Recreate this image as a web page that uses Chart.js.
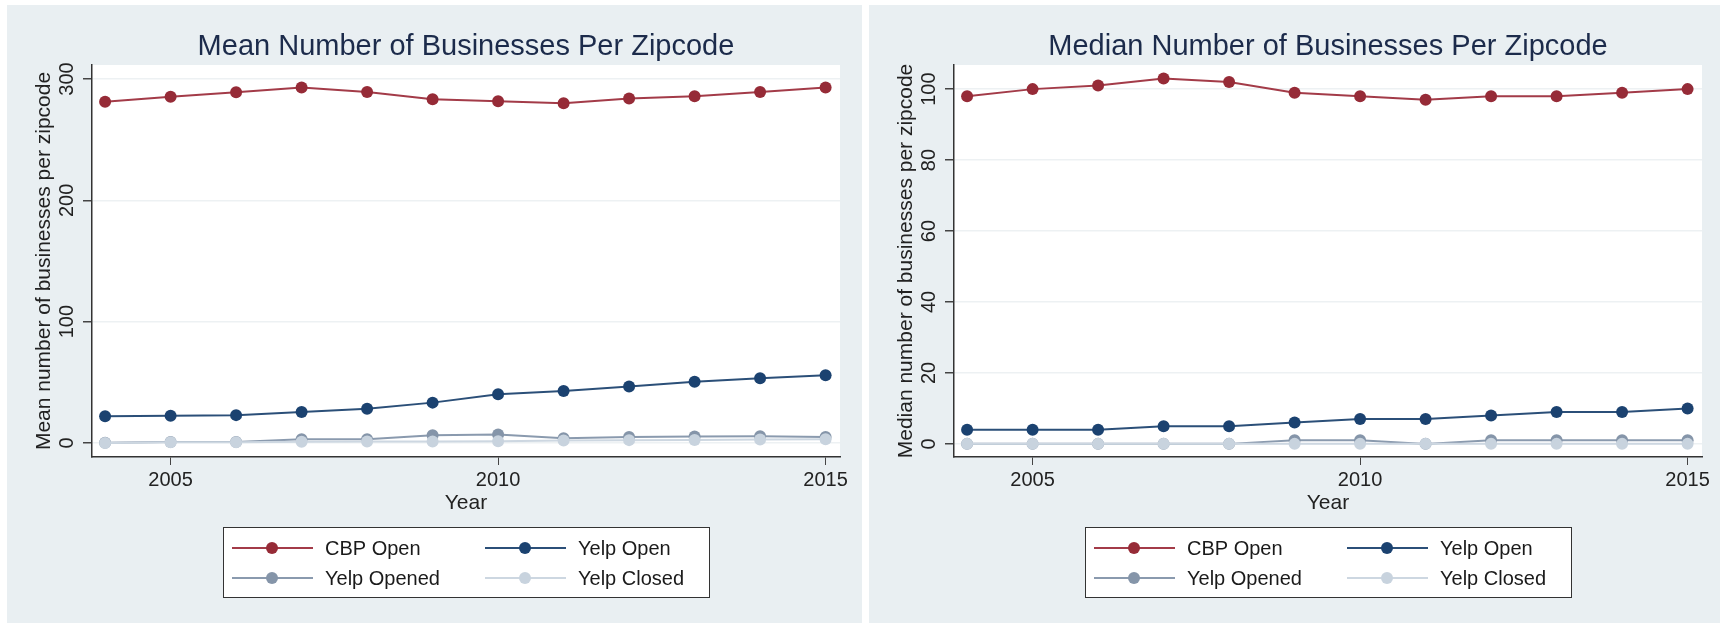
<!DOCTYPE html>
<html>
<head>
<meta charset="utf-8">
<script src="https://cdn.jsdelivr.net/npm/chart.js@4"></script>
<style>
    body { margin: 0; background: #ffffff; width: 1720px; height: 623px; position: relative; overflow: hidden; }
    .panel { position: absolute; top: 5px; height: 618px; background: #e9eff2; }
    #leftPanel { left: 7px; width: 855px; }
    #rightPanel { left: 869px; width: 851px; }
    canvas { display: block; }
</style>
</head>
<body>
<div class="panel" id="leftPanel"><canvas id="meanChart" width="855" height="618"></canvas></div>
<div class="panel" id="rightPanel"><canvas id="medianChart" width="851" height="618"></canvas></div>

<script>
// --- Data ---
const years = [2004, 2005, 2006, 2007, 2008, 2009, 2010, 2011, 2012, 2013, 2014, 2015];
const seriesLabels = ['CBP Open', 'Yelp Open', 'Yelp Opened', 'Yelp Closed'];

const meanCbpOpen = [281.3, 285.4, 289.0, 292.9, 289.3, 283.2, 281.6, 280.0, 283.8, 285.7, 289.3, 292.9];
const meanYelpOpen = [22.0, 22.4, 23.0, 25.6, 28.2, 33.3, 40.3, 42.9, 46.5, 50.5, 53.3, 55.8];
const meanYelpOpened = [0.3, 0.8, 0.8, 3.2, 3.2, 6.5, 7.0, 4.0, 4.9, 5.4, 5.7, 4.9];
const meanYelpClosed = [0.0, 0.6, 0.7, 1.0, 1.2, 1.3, 1.5, 2.0, 2.4, 2.6, 2.9, 3.2];

const medianCbpOpen = [98, 100, 101, 103, 102, 99, 98, 97, 98, 98, 99, 100];
const medianYelpOpen = [4, 4, 4, 5, 5, 6, 7, 7, 8, 9, 9, 10];
const medianYelpOpened = [0, 0, 0, 0, 0, 1, 1, 0, 1, 1, 1, 1];
const medianYelpClosed = [0, 0, 0, 0, 0, 0, 0, 0, 0, 0, 0, 0];

const xTickValues = [2005, 2010, 2015];
const meanTickValues = [0, 100, 200, 300];
const medianTickValues = [0, 20, 40, 60, 80, 100];

// line colour / marker colour per series
const lineColors = ['#a33b48', '#2b4f78', '#8a9aae', '#cdd7e1'];
const markerColors = ['#962b37', '#1b4270', '#8595a9', '#c8d3de'];

const FONT = '"Liberation Sans", Arial, Helvetica, sans-serif';

// Title, rotated y tick labels, plot background and boxed legend
const panelDecor = {
    id: 'panelDecor',
    beforeDraw(chart) {
        const { ctx, chartArea: ca } = chart;
        ctx.save();
        ctx.fillStyle = '#ffffff';
        ctx.fillRect(ca.left, ca.top, ca.right - ca.left, ca.bottom - ca.top);
        ctx.restore();
    },
    afterDraw(chart, args, opts) {
        const { ctx, chartArea: ca } = chart;
        const cx = (ca.left + ca.right) / 2;
        ctx.save();

        // Title
        ctx.font = '29px ' + FONT;
        ctx.fillStyle = '#1c2b4b';
        ctx.textAlign = 'center';
        ctx.textBaseline = 'middle';
        ctx.fillText(opts.title, cx, 42);

        // Y tick labels, rotated like Stata does
        const yScale = chart.scales.y;
        ctx.font = '20px ' + FONT;
        ctx.fillStyle = '#222222';
        yScale.ticks.forEach(t => {
            const py = yScale.getPixelForValue(t.value);
            ctx.save();
            ctx.translate(ca.left - 25, py);
            ctx.rotate(-Math.PI / 2);
            ctx.fillText(String(t.value), 0, 0);
            ctx.restore();
        });

        // Legend box
        const w = 486, h = 70, top = 522;
        const left = Math.round(cx - w / 2);
        ctx.fillStyle = '#ffffff';
        ctx.fillRect(left, top, w, h);
        ctx.strokeStyle = '#333333';
        ctx.lineWidth = 1;
        ctx.strokeRect(left + 0.5, top + 0.5, w, h);

        ctx.textAlign = 'left';
        chart.data.datasets.forEach((ds, i) => {
            const col = i % 2;
            const row = Math.floor(i / 2);
            const x0 = left + 9 + col * 253;
            const y = top + 21 + row * 30;
            ctx.strokeStyle = ds.borderColor;
            ctx.lineWidth = 2;
            ctx.beginPath();
            ctx.moveTo(x0, y);
            ctx.lineTo(x0 + 81, y);
            ctx.stroke();
            ctx.fillStyle = ds.pointBackgroundColor;
            ctx.beginPath();
            ctx.arc(x0 + 40, y, 6, 0, Math.PI * 2);
            ctx.fill();
            ctx.fillStyle = '#1a1a1a';
            ctx.font = '20px ' + FONT;
            ctx.fillText(ds.label, x0 + 93, y + 1);
        });
        ctx.restore();
    }
};

function buildDatasets(seriesList) {
    return seriesList.map((values, i) => ({
        label: seriesLabels[i],
        data: values.map((v, j) => ({ x: years[j], y: v })),
        borderColor: lineColors[i],
        pointBackgroundColor: markerColors[i],
        pointBorderWidth: 0,
        pointRadius: 6,
        borderWidth: 2,
        tension: 0,
        order: seriesList.length - i // later series drawn on top
    }));
}

function makePanel(canvasId, seriesList, opts) {
    const ctx = document.getElementById(canvasId);
    return new Chart(ctx, {
        type: 'line',
        data: { datasets: buildDatasets(seriesList) },
        options: {
            responsive: false,
            animation: false,
            devicePixelRatio: 1,
            layout: { padding: { left: 0, top: 60, right: opts.padRight, bottom: 96 } },
            plugins: {
                legend: { display: false },
                tooltip: { enabled: false },
                title: { display: false },
                panelDecor: { title: opts.title }
            },
            scales: {
                x: {
                    type: 'linear',
                    min: 2003.8,
                    max: 2015.22,
                    afterBuildTicks: s => { s.ticks = xTickValues.map(v => ({ value: v })); },
                    afterFit: s => { s.height = 70; },
                    ticks: {
                        padding: 3,
                        color: '#222222',
                        font: { family: FONT, size: 20 },
                        maxRotation: 0,
                        callback: v => String(v)
                    },
                    grid: { display: true, drawOnChartArea: false, drawTicks: true, tickLength: 8, tickColor: '#444444' },
                    border: { display: true, color: '#333333', width: 1.5 },
                    title: {
                        display: true,
                        text: 'Year',
                        color: '#222222',
                        font: { family: FONT, size: 21 },
                        padding: { top: 0, bottom: 11 }
                    }
                },
                y: {
                    min: opts.yMin,
                    max: opts.yMax,
                    afterBuildTicks: s => { s.ticks = opts.yTicks.map(v => ({ value: v })); },
                    afterFit: s => { s.width = 85; },
                    ticks: { display: false },
                    grid: { color: '#edf1f3', lineWidth: 1.5, drawTicks: true, tickLength: 9, tickColor: '#444444' },
                    border: { display: true, color: '#333333', width: 1.5 },
                    title: {
                        display: true,
                        text: opts.yTitle,
                        color: '#222222',
                        font: { family: FONT, size: 21 },
                        padding: { top: 25, bottom: 0 }
                    }
                }
            }
        },
        plugins: [panelDecor]
    });
}

makePanel('meanChart',
    [meanCbpOpen, meanYelpOpen, meanYelpOpened, meanYelpClosed],
    {
        title: 'Mean Number of Businesses Per Zipcode',
        yTitle: 'Mean number of businesses per zipcode',
        yMin: -11.5, yMax: 311.5, yTicks: meanTickValues, padRight: 22
    });

makePanel('medianChart',
    [medianCbpOpen, medianYelpOpen, medianYelpOpened, medianYelpClosed],
    {
        title: 'Median Number of Businesses Per Zipcode',
        yTitle: 'Median number of businesses per zipcode',
        yMin: -3.7, yMax: 106.8, yTicks: medianTickValues, padRight: 18
    });
</script>
</body>
</html>
